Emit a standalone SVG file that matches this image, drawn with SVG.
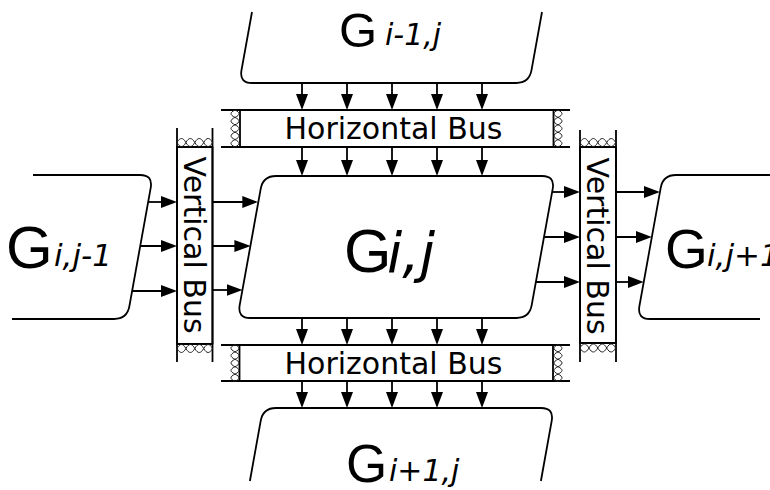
<svg xmlns="http://www.w3.org/2000/svg" xmlns:xlink="http://www.w3.org/1999/xlink" width="770" height="490" viewBox="0 0 770 490">
  <style>
    .shape { fill: #fff; stroke: #000; stroke-width: 1.8; stroke-linejoin: round; }
    .open { fill: none; stroke: #000; stroke-width: 1.8; }
    .wall { fill: none; stroke: #000; stroke-width: 1.8; }
    .hatch { fill: none; stroke: #222; stroke-width: 1; }
    .arrow { fill: none; stroke: #000; stroke-width: 1.8; marker-end: url(#head); }
    .g { font-family: "Liberation Sans", Arial, sans-serif; fill: #000; }
    .sub { font-family: "DejaVu Sans", sans-serif; font-style: oblique; fill: #000; }
    .bus-label { font-family: "DejaVu Sans", sans-serif; font-size: 30px; fill: #000; text-anchor: middle; }
  </style>
  <defs>
    <marker id="head" viewBox="0 0 16 12" refX="13" refY="6" markerWidth="16" markerHeight="12" markerUnits="userSpaceOnUse" orient="auto">
      <path d="M0,0 L16,6 L0,12 Z" fill="#000"/>
    </marker>
    <!-- braided end-cap, vertical run (37 long) -->
    <path id="hatchV" d="M0,0 c5.33,2.47 5.33,4.93 0,7.4 c-5.33,2.47 -5.33,4.93 0,7.4 c5.33,2.47 5.33,4.93 0,7.4 c-5.33,2.47 -5.33,4.93 0,7.4 c5.33,2.47 5.33,4.93 0,7.4 M0,0 c-5.33,2.47 -5.33,4.93 0,7.4 c5.33,2.47 5.33,4.93 0,7.4 c-5.33,2.47 -5.33,4.93 0,7.4 c5.33,2.47 5.33,4.93 0,7.4 c-5.33,2.47 -5.33,4.93 0,7.4"/>
    <!-- braided end-cap, horizontal run (35.6 long) -->
    <path id="hatchH" d="M0,0 c2.97,-5.33 5.93,-5.33 8.9,0 c2.97,5.33 5.93,5.33 8.9,0 c2.97,-5.33 5.93,-5.33 8.9,0 c2.97,5.33 5.93,5.33 8.9,0 M0,0 c2.97,5.33 5.93,5.33 8.9,0 c2.97,-5.33 5.93,-5.33 8.9,0 c2.97,5.33 5.93,5.33 8.9,0 c2.97,-5.33 5.93,-5.33 8.9,0"/>
  </defs>

  <rect width="770" height="490" fill="#fff"/>

  <!-- upper neighbour -->
  <g id="node-upper">
    <path class="open" d="M252,12 L241.5,70.2 Q239.2,83 252.2,83 L516.2,83 Q529.2,83 531.5,70.2 L542,12"/>
    <text class="g" x="339" y="47" font-size="49">G</text>
    <text class="sub" x="385" y="45" font-size="30">i-1,j</text>
  </g>

  <!-- left neighbour -->
  <g id="node-left">
    <path class="open" d="M33,175 L140,175 Q153,175 150.7,187.8 L129.4,306.2 Q127.1,319 114.1,319 L12,319"/>
    <text class="g" x="6" y="268" font-size="60">G</text>
    <text class="sub" x="54" y="266" font-size="31">i,j-1</text>
  </g>

  <!-- centre block -->
  <g id="node-centre">
    <path class="shape" d="M276,176 L542,176 Q555,176 552.7,188.8 L531.7,305.2 Q529.4,318 516.4,318 L250.4,318 Q237.4,318 239.7,305.2 L260.7,188.8 Q263,176 276,176 Z"/>
    <text class="g" x="344" y="272" font-size="61">G</text>
    <text class="sub" x="387" y="272" font-size="55">i,j</text>
  </g>

  <!-- right neighbour -->
  <g id="node-right">
    <path class="open" d="M771,175 L676,175 Q663,175 660.7,187.8 L639.4,306.2 Q637.1,319 650.1,319 L760,319"/>
    <text class="g" x="665" y="268" font-size="55">G</text>
    <text class="sub" x="707" y="266" font-size="31">i,j+1</text>
  </g>

  <!-- lower neighbour -->
  <g id="node-lower">
    <path class="open" d="M249.9,481 L260.7,420.8 Q263,408 276,408 L541,408 Q554,408 551.7,420.8 L540.9,481"/>
    <text class="g" x="346" y="482" font-size="53">G</text>
    <text class="sub" x="389" y="481" font-size="30">i+1,j</text>
  </g>

  <!-- upper horizontal bus -->
  <g id="bus-h-upper">
    <rect class="shape" x="240" y="110" width="313.5" height="37"/>
    <path class="wall" d="M221,110 H570 M221,147 H570"/>
    <use xlink:href="#hatchV" class="hatch" x="235" y="110"/>
    <use xlink:href="#hatchV" class="hatch" x="558" y="110"/>
    <text class="bus-label" x="393.5" y="138.5">Horizontal Bus</text>
  </g>

  <!-- lower horizontal bus -->
  <g id="bus-h-lower">
    <rect class="shape" x="239.5" y="345" width="313.5" height="36"/>
    <path class="wall" d="M221,345 H570 M221,381 H570"/>
    <use xlink:href="#hatchV" class="hatch" x="235" y="344.5"/>
    <use xlink:href="#hatchV" class="hatch" x="558" y="344.5"/>
    <text class="bus-label" x="393.5" y="373.5">Horizontal Bus</text>
  </g>

  <!-- left vertical bus -->
  <g id="bus-v-left">
    <rect class="shape" x="177" y="147" width="35.5" height="197"/>
    <path class="wall" d="M177,128 V362 M212.5,128 V362"/>
    <use xlink:href="#hatchH" class="hatch" x="177" y="142.5"/>
    <use xlink:href="#hatchH" class="hatch" x="177" y="348.5"/>
    <text class="bus-label" transform="translate(184,245) rotate(90)">Vertical Bus</text>
  </g>

  <!-- right vertical bus -->
  <g id="bus-v-right">
    <rect class="shape" x="580" y="147" width="36" height="196"/>
    <path class="wall" d="M580,130 V362 M616,130 V362"/>
    <use xlink:href="#hatchH" class="hatch" x="580" y="142.5"/>
    <use xlink:href="#hatchH" class="hatch" x="580" y="348"/>
    <text class="bus-label" transform="translate(587,246) rotate(90)">Vertical Bus</text>
  </g>

  <!-- connectors -->
  <g id="connectors">
    <!-- upper neighbour to upper bus -->
    <path class="arrow" d="M302,83 V107"/>
    <path class="arrow" d="M347,83 V107"/>
    <path class="arrow" d="M392,83 V107"/>
    <path class="arrow" d="M437,83 V107"/>
    <path class="arrow" d="M482,83 V107"/>
    <!-- upper bus to centre -->
    <path class="arrow" d="M302,147 V173"/>
    <path class="arrow" d="M347,147 V173"/>
    <path class="arrow" d="M392,147 V173"/>
    <path class="arrow" d="M437,147 V173"/>
    <path class="arrow" d="M482,147 V173"/>
    <!-- centre to lower bus -->
    <path class="arrow" d="M302,318 V342"/>
    <path class="arrow" d="M347,318 V342"/>
    <path class="arrow" d="M392,318 V342"/>
    <path class="arrow" d="M437,318 V342"/>
    <path class="arrow" d="M482,318 V342"/>
    <!-- lower bus to lower neighbour -->
    <path class="arrow" d="M302,381 V405"/>
    <path class="arrow" d="M347,381 V405"/>
    <path class="arrow" d="M392,381 V405"/>
    <path class="arrow" d="M437,381 V405"/>
    <path class="arrow" d="M482,381 V405"/>
    <!-- left neighbour to left bus -->
    <path class="arrow" d="M148.1,202 H174"/>
    <path class="arrow" d="M140.2,246 H174"/>
    <path class="arrow" d="M132.1,291 H174"/>
    <!-- left bus to centre -->
    <path class="arrow" d="M212.5,202 H255.3"/>
    <path class="arrow" d="M212.5,246 H247.4"/>
    <path class="arrow" d="M212.5,290 H239.5"/>
    <!-- centre to right bus -->
    <path class="arrow" d="M552.1,192 H577"/>
    <path class="arrow" d="M544,237 H577"/>
    <path class="arrow" d="M535.9,282 H577"/>
    <!-- right bus to right neighbour -->
    <path class="arrow" d="M616,192 H656.9"/>
    <path class="arrow" d="M616,237 H648.8"/>
    <path class="arrow" d="M616,282 H640.7"/>
  </g>
</svg>
